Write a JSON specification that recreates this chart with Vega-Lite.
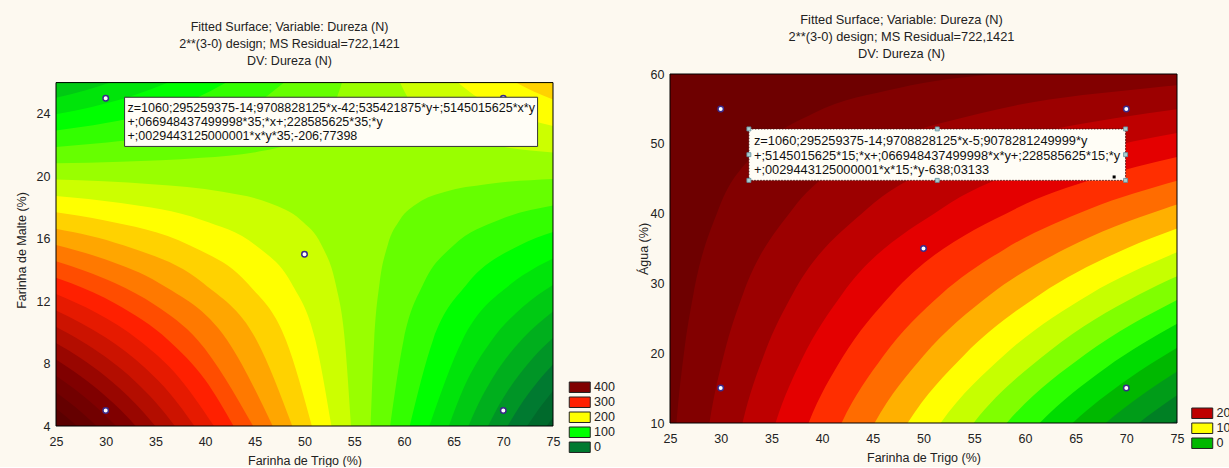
{
"$schema":"https://vega.github.io/schema/vega-lite/v6.json",
"background":"#fdf9f0",
"padding":{"left":15,"top":13,"right":0,"bottom":0},
"config":{"font":"Liberation Sans","view":{"stroke":null},
"axis":{"labelFont":"Liberation Sans","labelFontSize":12.5,"labelColor":"#222","titleFont":"Liberation Sans","titleFontSize":12.5,"titleFontWeight":"normal","titleColor":"#222","domain":false,"grid":false,"ticks":false,"labelFlush":false,"labelOverlap":false},
"title":{"font":"Liberation Sans","subtitleFont":"Liberation Sans","color":"#222","subtitleColor":"#222","fontWeight":"normal"}},
"datasets":{
"Llo":[
{"U":180,"t":25,"m":19.786},{"U":180,"t":34.652,"m":19.485},{"U":180,"t":41.742,"m":19.004},{"U":180,"t":46.469,"m":18.282},{"U":180,"t":49.62,"m":17.199},{"U":180,"t":51.721,"m":15.575},{"U":180,"t":53.121,"m":13.138},{"U":180,"t":54.055,"m":9.483},{"U":180,"t":54.677,"m":4},
{"U":200,"t":25,"m":18.739},{"U":200,"t":31.517,"m":18.282},{"U":200,"t":39.652,"m":17.199},{"U":200,"t":45.075,"m":15.575},{"U":200,"t":48.691,"m":13.138},{"U":200,"t":51.101,"m":9.483},{"U":200,"t":52.708,"m":4},
{"U":220,"t":25,"m":17.691},{"U":220,"t":29.684,"m":17.199},{"U":220,"t":38.43,"m":15.575},{"U":220,"t":44.261,"m":13.138},{"U":220,"t":48.148,"m":9.483},{"U":220,"t":50.739,"m":4},
{"U":240,"t":25,"m":16.644},{"U":240,"t":31.785,"m":15.575},{"U":240,"t":39.83,"m":13.138},{"U":240,"t":45.194,"m":9.483},{"U":240,"t":48.77,"m":4},
{"U":260,"t":25,"m":15.596},{"U":260,"t":30,"m":14.661},{"U":260,"t":35.4,"m":13.138},{"U":260,"t":42.241,"m":9.483},{"U":260,"t":46.801,"m":4},
{"U":280,"t":25,"m":14.549},{"U":280,"t":28,"m":13.915},{"U":280,"t":30.97,"m":13.138},{"U":280,"t":35,"m":11.73},{"U":280,"t":39.287,"m":9.483},{"U":280,"t":44.832,"m":4},
{"U":300,"t":25,"m":13.502},{"U":300,"t":26.54,"m":13.138},{"U":300,"t":31,"m":11.829},{"U":300,"t":36.334,"m":9.483},{"U":300,"t":40,"m":6.958},{"U":300,"t":42.863,"m":4},
{"U":320,"t":25,"m":12.454},{"U":320,"t":29,"m":11.267},{"U":320,"t":33.38,"m":9.483},{"U":320,"t":37,"m":7.385},{"U":320,"t":40.894,"m":4},
{"U":340,"t":25,"m":11.407},{"U":340,"t":30,"m":9.663},{"U":340,"t":34,"m":7.695},{"U":340,"t":36.5,"m":6.054},{"U":340,"t":38.925,"m":4},
{"U":360,"t":25,"m":10.36},{"U":360,"t":30,"m":8.414},{"U":360,"t":33,"m":6.839},{"U":360,"t":35,"m":5.538},{"U":360,"t":36.956,"m":4},
{"U":380,"t":25,"m":9.312},{"U":380,"t":27.5,"m":8.333},{"U":380,"t":30,"m":7.164},{"U":380,"t":33,"m":5.426},{"U":380,"t":34.987,"m":4},
{"U":400,"t":25,"m":8.265},{"U":400,"t":29,"m":6.455},{"U":400,"t":31.5,"m":5.022},{"U":400,"t":33.018,"m":4},
{"U":420,"t":25,"m":7.218},{"U":420,"t":27,"m":6.303},{"U":420,"t":29,"m":5.252},{"U":420,"t":31.049,"m":4},
{"U":440,"t":25,"m":6.17},{"U":440,"t":27,"m":5.183},{"U":440,"t":29.08,"m":4},
{"U":460,"t":25,"m":5.123},{"U":460,"t":26,"m":4.611},{"U":460,"t":27.111,"m":4},
{"U":480,"t":25,"m":4.076},{"U":480,"t":25.142,"m":4},
{"U":140,"t":56.646,"m":4},{"U":140,"t":57.008,"m":9.483},{"U":140,"t":57.551,"m":13.138},{"U":140,"t":58.366,"m":15.575},{"U":140,"t":59.588,"m":17.199},{"U":140,"t":61.421,"m":18.282},{"U":140,"t":64.17,"m":19.004},{"U":140,"t":68.294,"m":19.485},{"U":140,"t":75,"m":19.824},
{"U":120,"t":58.615,"m":4},{"U":120,"t":59.962,"m":9.483},{"U":120,"t":61.982,"m":13.138},{"U":120,"t":65.011,"m":15.575},{"U":120,"t":69.556,"m":17.199},{"U":120,"t":75,"m":18.126},
{"U":100,"t":60.584,"m":4},{"U":100,"t":62.915,"m":9.483},{"U":100,"t":66.412,"m":13.138},{"U":100,"t":71.657,"m":15.575},{"U":100,"t":75,"m":16.429},
{"U":80,"t":62.553,"m":4},{"U":80,"t":65.869,"m":9.483},{"U":80,"t":70.842,"m":13.138},{"U":80,"t":73,"m":14.062},{"U":80,"t":75,"m":14.731},
{"U":60,"t":64.522,"m":4},{"U":60,"t":66,"m":6.412},{"U":60,"t":68.822,"m":9.483},{"U":60,"t":72,"m":11.65},{"U":60,"t":75,"m":13.034},
{"U":40,"t":66.491,"m":4},{"U":40,"t":67.5,"m":5.433},{"U":40,"t":69,"m":7.155},{"U":40,"t":72,"m":9.636},{"U":40,"t":75,"m":11.336},
{"U":20,"t":68.46,"m":4},{"U":20,"t":69.3,"m":5.033},{"U":20,"t":70.5,"m":6.302},{"U":20,"t":73,"m":8.373},{"U":20,"t":75,"m":9.638},
{"U":0,"t":70.429,"m":4},{"U":0,"t":72,"m":5.607},{"U":0,"t":73.5,"m":6.874},{"U":0,"t":75,"m":7.941},
{"U":-20,"t":72.398,"m":4},{"U":-20,"t":73.5,"m":5.031},{"U":-20,"t":75,"m":6.243},
{"U":-40,"t":74.367,"m":4},{"U":-40,"t":75,"m":4.546}
],
"Lhi":[
{"U":180,"t":59.61,"m":26},{"U":180,"t":60.5,"m":24.921},{"U":180,"t":61.454,"m":24.149},{"U":180,"t":64.22,"m":22.916},{"U":180,"t":68.369,"m":22.093},{"U":180,"t":75,"m":21.521},
{"U":200,"t":65.443,"m":26},{"U":200,"t":67,"m":25.22},{"U":200,"t":70.204,"m":24.149},{"U":200,"t":75,"m":23.219},
{"U":220,"t":71.277,"m":26},{"U":220,"t":73,"m":25.44},{"U":220,"t":75,"m":24.916},
{"U":140,"t":25,"m":20.833},{"U":140,"t":31.487,"m":20.935},{"U":140,"t":39.632,"m":21.179},{"U":140,"t":45.062,"m":21.545},{"U":140,"t":48.682,"m":22.093},{"U":140,"t":51.095,"m":22.916},{"U":140,"t":52.704,"m":24.149},{"U":140,"t":53.777,"m":26},
{"U":120,"t":25,"m":21.881},{"U":120,"t":28.995,"m":22.093},{"U":120,"t":37.971,"m":22.916},{"U":120,"t":43.954,"m":24.149},{"U":120,"t":47.944,"m":26},
{"U":100,"t":25,"m":22.928},{"U":100,"t":30,"m":23.406},{"U":100,"t":35.205,"m":24.149},{"U":100,"t":39,"m":24.98},{"U":100,"t":42.11,"m":26},
{"U":80,"t":25,"m":23.975},{"U":80,"t":28.5,"m":24.425},{"U":80,"t":32,"m":25.007},{"U":80,"t":36.277,"m":26},
{"U":60,"t":25,"m":25.023},{"U":60,"t":28,"m":25.514},{"U":60,"t":30.444,"m":26}
],
"R":[
{"U":-40,"t":24,"a":-17.64},{"U":-40,"t":57.09,"a":-17.64},{"U":-40,"t":74.48,"a":10},{"U":-40,"t":75,"a":10.545},
{"U":-20,"t":24,"a":-17.64},{"U":-20,"t":54.92,"a":-17.64},{"U":-20,"t":71.224,"a":10},{"U":-20,"t":73,"a":11.937},{"U":-20,"t":75,"a":13.961},
{"U":0,"t":24,"a":-17.64},{"U":0,"t":52.749,"a":-17.64},{"U":0,"t":67.968,"a":10},{"U":0,"t":71.5,"a":13.97},{"U":0,"t":75,"a":17.378},
{"U":20,"t":24,"a":-17.64},{"U":20,"t":50.578,"a":-17.64},{"U":20,"t":64.712,"a":10},{"U":20,"t":70,"a":16.13},{"U":20,"t":75,"a":20.794},
{"U":40,"t":24,"a":-17.64},{"U":40,"t":48.408,"a":-17.64},{"U":40,"t":61.456,"a":10},{"U":40,"t":68,"a":17.918},{"U":40,"t":75,"a":24.21},
{"U":60,"t":24,"a":-17.64},{"U":60,"t":46.236,"a":-17.64},{"U":60,"t":58.199,"a":10},{"U":60,"t":66,"a":19.87},{"U":60,"t":75,"a":27.626},
{"U":80,"t":24,"a":-17.64},{"U":80,"t":44.066,"a":-17.64},{"U":80,"t":54.943,"a":10},{"U":80,"t":62.5,"a":20.394},{"U":80,"t":71.259,"a":28.426},{"U":80,"t":75,"a":31.042},
{"U":100,"t":24,"a":-17.64},{"U":100,"t":41.895,"a":-17.64},{"U":100,"t":51.687,"a":10},{"U":100,"t":58,"a":19.778},{"U":100,"t":66.375,"a":28.426},{"U":100,"t":75,"a":34.459},
{"U":120,"t":24,"a":-17.64},{"U":120,"t":39.724,"a":-17.64},{"U":120,"t":48.431,"a":10},{"U":120,"t":54,"a":19.715},{"U":120,"t":61.491,"a":28.426},{"U":120,"t":70,"a":35.002},{"U":120,"t":75,"a":37.875},
{"U":140,"t":24,"a":-17.64},{"U":140,"t":37.554,"a":-17.64},{"U":140,"t":45.175,"a":10},{"U":140,"t":50,"a":19.633},{"U":140,"t":56.607,"a":28.426},{"U":140,"t":64,"a":34.962},{"U":140,"t":73.755,"a":40.711},{"U":140,"t":75,"a":41.291},
{"U":160,"t":24,"a":-17.64},{"U":160,"t":35.383,"a":-17.64},{"U":160,"t":41.919,"a":10},{"U":160,"t":46,"a":19.524},{"U":160,"t":51.723,"a":28.426},{"U":160,"t":58,"a":34.909},{"U":160,"t":66.429,"a":40.711},{"U":160,"t":75,"a":44.707},
{"U":180,"t":24,"a":-17.64},{"U":180,"t":33.212,"a":-17.64},{"U":180,"t":38.663,"a":10},{"U":180,"t":42,"a":19.37},{"U":180,"t":46.839,"a":28.426},{"U":180,"t":59.103,"a":40.711},{"U":180,"t":67,"a":45.053},{"U":180,"t":75,"a":48.123},
{"U":200,"t":24,"a":-17.64},{"U":200,"t":31.041,"a":-17.64},{"U":200,"t":35.406,"a":10},{"U":200,"t":38,"a":19.138},{"U":200,"t":41.954,"a":28.426},{"U":200,"t":51.775,"a":40.711},{"U":200,"t":66.507,"a":48.9},{"U":200,"t":75,"a":51.54},
{"U":220,"t":24,"a":-17.64},{"U":220,"t":28.871,"a":-17.64},{"U":220,"t":32.15,"a":10},{"U":220,"t":34.362,"a":20.144},{"U":220,"t":37.07,"a":28.426},{"U":220,"t":44.45,"a":40.711},{"U":220,"t":55.519,"a":48.9},{"U":220,"t":72.123,"a":54.359},{"U":220,"t":75,"a":54.956},
{"U":240,"t":24,"a":-17.64},{"U":240,"t":26.7,"a":-17.64},{"U":240,"t":28.894,"a":10},{"U":240,"t":30.374,"a":20.144},{"U":240,"t":32.186,"a":28.426},{"U":240,"t":37.123,"a":40.711},{"U":240,"t":44.529,"a":48.9},{"U":240,"t":55.638,"a":54.359},{"U":240,"t":72.302,"a":57.999},{"U":240,"t":75,"a":58.372},
{"U":260,"t":24.529,"a":-17.64},{"U":260,"t":25.638,"a":10},{"U":260,"t":26.386,"a":20.144},{"U":260,"t":27.302,"a":28.426},{"U":260,"t":29.797,"a":40.711},{"U":260,"t":33.54,"a":48.9},{"U":260,"t":39.154,"a":54.359},{"U":260,"t":47.575,"a":57.999},{"U":260,"t":60.207,"a":60.426},{"U":260,"t":75,"a":61.789}
],
"Lp":[{"t":30,"m":5},{"t":30,"m":25},{"t":50,"m":15},{"t":70,"m":5},{"t":70,"m":25}],
"Rp":[{"t":30,"a":15},{"t":30,"a":55},{"t":50,"a":35},{"t":70,"a":15},{"t":70,"a":55}],
"Rh":[{"t":32.78,"a":52.13},{"t":51.355,"a":52.13},{"t":69.93,"a":52.13},{"t":32.78,"a":48.445},{"t":69.93,"a":48.445},{"t":32.78,"a":44.76},{"t":51.355,"a":44.76},{"t":69.93,"a":44.76}]
},
"resolve":{"scale":{"color":"independent"}},
"spacing":21,
"hconcat":[
{
"width":497,"height":352,
"title":{"text":" ","fontSize":1,"subtitle":["Fitted Surface; Variable: Dureza (N)","2**(3-0) design; MS Residual=722,1421","DV: Dureza (N)"],"subtitleFontSize":12.5,"subtitleLineHeight":17,"subtitlePadding":0,"offset":6.4,"anchor":"middle","dx":-15},
"layer":[
{"data":{"values":[{}]},"mark":{"type":"rect","fill":"#99ff00"},
"encoding":{"x":{"datum":25,"type":"quantitative","scale":{"domain":[25,75],"nice":false,"zero":false}},"x2":{"datum":75},"y":{"datum":4,"type":"quantitative","scale":{"domain":[4,26.55],"nice":false,"zero":false}},"y2":{"datum":26}}},
{"data":{"name":"Llo"},"mark":{"type":"area","interpolate":"monotone","clip":true},
"encoding":{
"x":{"field":"t","type":"quantitative","title":"Farinha de Trigo (%)","scale":{"domain":[25,75],"nice":false,"zero":false},"axis":{"values":[25,30,35,40,45,50,55,60,65,70,75],"labelPadding":9,"titlePadding":7,"labelOverlap":false}},
"y":{"field":"m","type":"quantitative","title":"Farinha de Malte (%)","stack":null,"scale":{"domain":[4,26.55],"nice":false,"zero":false},"axis":{"values":[4,6,8,10,12,14,16,18,20,22,24,26],"labelPadding":6,"titlePadding":8,"labelOverlap":false}},
"y2":{"datum":4},
"color":{"field":"U","type":"ordinal","scale":{"domain":[480,460,440,420,400,380,360,340,320,300,280,260,240,220,200,180,160,140,120,100,80,60,40,20,0,-20,-40],"range":["#500000","#5a0000","#650000","#720000","#800000","#990600","#b30d00","#cc1300","#e61a00","#ff2000","#ff4d00","#ff7900","#ffa600","#ffd200","#ffff00","#ccff00","#99ff00","#66ff00","#33ff00","#00ff00","#00e40a","#00ca13","#00af1d","#009526","#007a30","#006a2c","#005a28"]},
"legend":{"values":[400,300,200,100,0],"title":null,"orient":"none","legendX":517.5,"legendY":307,"symbolType":"M-2,-1H2V1H-2Z","symbolSize":110,"symbolStrokeColor":"#222","symbolStrokeWidth":1,"symbolOpacity":1,"labelOffset":8,"labelFont":"Liberation Sans","labelFontSize":12.5,"labelColor":"#222","rowPadding":0,"padding":0}}
}},
{"data":{"name":"Lhi"},"mark":{"type":"area","interpolate":"monotone","clip":true},
"encoding":{
"x":{"field":"t","type":"quantitative","title":"Farinha de Trigo (%)","scale":{"domain":[25,75],"nice":false,"zero":false}},
"y":{"field":"m","type":"quantitative","title":"Farinha de Malte (%)","stack":null,"scale":{"domain":[4,26.55],"nice":false,"zero":false}},
"y2":{"datum":26},
"color":{"field":"U","type":"ordinal"}
}},
{"data":{"name":"Lp"},"mark":{"type":"point","shape":"circle","filled":true,"fill":"#ffffff","stroke":"#3a2a8a","strokeWidth":1.5,"size":30,"opacity":1},
"encoding":{
"x":{"field":"t","type":"quantitative","title":"Farinha de Trigo (%)","scale":{"domain":[25,75],"nice":false,"zero":false}},
"y":{"field":"m","type":"quantitative","title":"Farinha de Malte (%)","scale":{"domain":[4,26.55],"nice":false,"zero":false}}
}},
{"data":{"values":[{}]},"mark":{"type":"rect","fill":"#fffdf6","stroke":"#333333","strokeWidth":1},
"encoding":{"x":{"datum":31.9,"type":"quantitative"},"x2":{"datum":73.45},"y":{"datum":25.06,"type":"quantitative"},"y2":{"datum":21.91}}},
{"data":{"values":[{}]},"mark":{"type":"text","text":["z=1060;295259375-14;9708828125*x-42;535421875*y+;5145015625*x*y","+;066948437499998*35;*x+;228585625*35;*y","+;0029443125000001*x*y*35;-206;77398"],"align":"left","baseline":"middle","font":"Liberation Sans","fontSize":12.5,"lineHeight":14.3,"color":"#111111"},
"encoding":{"x":{"datum":32.2,"type":"quantitative"},"y":{"datum":24.4,"type":"quantitative"}}},
{"data":{"values":[{}]},"mark":{"type":"rect","filled":false,"stroke":"#000000","strokeWidth":1},
"encoding":{"x":{"datum":25,"type":"quantitative"},"x2":{"datum":75},"y":{"datum":4,"type":"quantitative"},"y2":{"datum":26}}}
]
},
{
"width":507,"height":349,
"view":{"fill":"#006a2c","stroke":null},
"title":{"text":" ","fontSize":1,"subtitle":["Fitted Surface; Variable: Dureza (N)","2**(3-0) design; MS Residual=722,1421","DV: Dureza (N)"],"subtitleFontSize":12.8,"subtitleLineHeight":17,"subtitlePadding":0,"offset":6.8,"anchor":"middle","dx":-22},
"layer":[
{"data":{"name":"R"},"mark":{"type":"area","interpolate":"monotone","clip":true},
"encoding":{
"x":{"field":"t","type":"quantitative","title":"Farinha de Trigo (%)","scale":{"domain":[25,75],"nice":false,"zero":false},"axis":{"values":[25,30,35,40,45,50,55,60,65,70,75],"labelPadding":9,"titlePadding":7,"labelOverlap":false}},
"y":{"field":"a","type":"quantitative","title":"Água (%)","stack":null,"scale":{"domain":[10,60],"nice":false,"zero":false},"axis":{"values":[10,15,20,25,30,35,40,45,50,55,60],"labelPadding":6,"titlePadding":0,"labelOverlap":false}},
"y2":{"datum":60},
"color":{"field":"U","type":"ordinal","scale":{"domain":[260,240,220,200,180,160,140,120,100,80,60,40,20,0,-20,-40,-60],"range":["#6e0000","#820000","#9c0000","#be0000","#e40000","#ff2e00","#ff6c00","#ffb000","#ffff00","#c6ff00","#80ff00","#2cff00","#00dc00","#00b800","#009c18","#008024","#006a2c"]},
"legend":{"values":[200,100,0],"title":null,"orient":"none","legendX":526,"legendY":333,"symbolType":"M-2,-1H2V1H-2Z","symbolSize":110,"symbolStrokeColor":"#222","symbolStrokeWidth":1,"symbolOpacity":1,"labelOffset":8,"labelFont":"Liberation Sans","labelFontSize":12.5,"labelColor":"#222","rowPadding":0,"padding":0}}
}},
{"data":{"name":"Rp"},"mark":{"type":"point","shape":"circle","filled":true,"fill":"#ffffff","stroke":"#3a2a8a","strokeWidth":1.5,"size":30,"opacity":1},
"encoding":{
"x":{"field":"t","type":"quantitative","title":"Farinha de Trigo (%)","scale":{"domain":[25,75],"nice":false,"zero":false}},
"y":{"field":"a","type":"quantitative","title":"Água (%)","scale":{"domain":[10,60],"nice":false,"zero":false}}
}},
{"data":{"values":[{}]},"mark":{"type":"rect","fill":"#fffdf6","stroke":"#4a1010","strokeWidth":1,"strokeDash":[1.5,1.5]},
"encoding":{"x":{"datum":32.78,"type":"quantitative"},"x2":{"datum":69.93},"y":{"datum":52.13,"type":"quantitative"},"y2":{"datum":44.76}}},
{"data":{"values":[{}]},"mark":{"type":"text","text":["z=1060;295259375-14;9708828125*x-5;9078281249999*y","+;5145015625*15;*x+;066948437499998*x*y+;228585625*15;*y","+;0029443125000001*x*15;*y-638;03133"],"align":"left","baseline":"middle","font":"Liberation Sans","fontSize":12.8,"lineHeight":14.3,"color":"#111111"},
"encoding":{"x":{"datum":33.28,"type":"quantitative"},"y":{"datum":50.35,"type":"quantitative"}}},
{"data":{"name":"Rh"},"mark":{"type":"point","shape":"square","filled":true,"fill":"#a9cfd0","stroke":"#5f8f9f","strokeWidth":0.8,"size":16,"opacity":1},
"encoding":{
"x":{"field":"t","type":"quantitative","title":"Farinha de Trigo (%)","scale":{"domain":[25,75],"nice":false,"zero":false}},
"y":{"field":"a","type":"quantitative","title":"Água (%)","scale":{"domain":[10,60],"nice":false,"zero":false}}
}},
{"data":{"values":[{}]},"mark":{"type":"point","shape":"square","filled":true,"color":"#000000","size":9,"opacity":1},
"encoding":{"x":{"datum":68.8,"type":"quantitative"},"y":{"datum":45.25,"type":"quantitative"}}},
{"data":{"values":[{}]},"mark":{"type":"rect","filled":false,"stroke":"#000000","strokeWidth":1},
"encoding":{"x":{"datum":25,"type":"quantitative"},"x2":{"datum":75},"y":{"datum":10,"type":"quantitative"},"y2":{"datum":60}}}
]
}
]
}
